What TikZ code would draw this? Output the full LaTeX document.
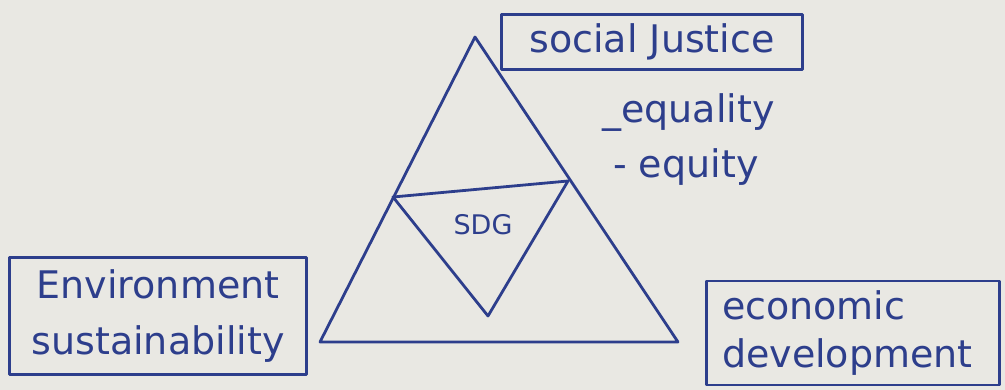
\documentclass[tikz,border=0pt]{standalone}
\usepackage{fontspec}
\setmainfont{DejaVu Sans}
\usetikzlibrary{positioning}
\definecolor{ink}{RGB}{45,62,140}
\definecolor{paper}{RGB}{233,232,227}
\tikzset{
    pen/.style={draw=ink, line width=2.8pt, line join=round, line cap=round},
    labelbox/.style={pen, rectangle, inner sep=0pt, align=center, text=ink, font=\fontsize{38}{52}\selectfont},
    note/.style={text=ink, inner sep=0pt, font=\fontsize{38}{44}\selectfont}
}

\begin{document}
\begin{tikzpicture}[x=1pt, y=-1pt]
        \fill[paper] (0,0) rectangle (1005,390);
        \useasboundingbox (0,0) rectangle (1005,390);

        % Outer triangle
        \coordinate (apex) at (475,37);
        \coordinate (baseL) at (320,342);
        \coordinate (baseR) at (678,342);
        \draw[pen] (apex) -- (baseL) -- (baseR) -- cycle;

        % Inner triangle
        \coordinate (midL) at (393,197);
        \coordinate (midR) at (568,181);
        \coordinate (midB) at (488,316);
        \draw[pen] (midL) -- (midR) -- (midB) -- cycle;
        \node (sdg) [note, font=\fontsize{27}{32}\selectfont] at (483,225) {SDG};

        % Pillars
        \node (social) [labelbox, minimum width=301pt, minimum height=55pt] at (652,42) {social Justice};
        \node (environ) [labelbox, minimum width=297pt, minimum height=117pt, font=\fontsize{38}{56}\selectfont] at (158,316) {Environment\\sustainability};
        \node (econ) [labelbox, minimum width=293pt, minimum height=104pt, text width=262pt, align=left, font=\fontsize{38}{48}\selectfont] at (853,333) {economic\\development};

        % Notes
        \node (equality) [note, anchor=west] at (602,113) {\_equality};
        \node (equity) [note, below=16pt of equality.south west, anchor=north west, xshift=11pt] {-\ equity};
    \end{tikzpicture}
\end{document}
